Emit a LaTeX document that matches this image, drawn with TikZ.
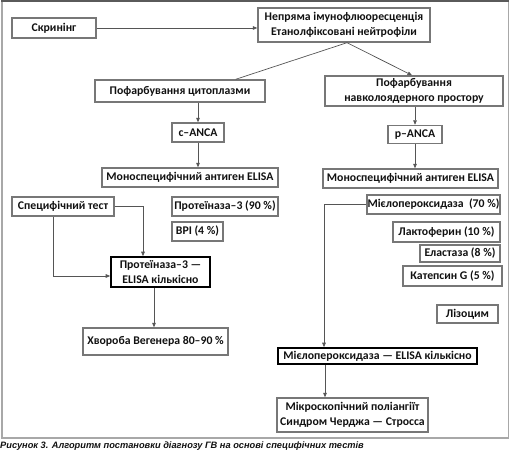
\documentclass[tikz,border=0pt]{standalone}
\usepackage{fontspec}
\setmainfont{Carlito}
\newfontfamily\capfont{Liberation Sans}
\usetikzlibrary{arrows.meta,calc}
\definecolor{boxgray}{HTML}{777777}
\definecolor{linegray}{HTML}{555555}
\definecolor{txt}{HTML}{111111}
\definecolor{framegray}{HTML}{A8A8A8}
\definecolor{framedark}{HTML}{5A5A5A}
\begin{document}
\begin{tikzpicture}[x=1bp,y=-1bp,
  box/.style={draw=boxgray, line width=1.4bp, rectangle, inner sep=0pt, align=center,
    font=\fontsize{11.8}{14.5}\selectfont\bfseries, text=txt},
  thick box/.style={box, draw=black, line width=1.6bp},
  ln/.style={draw=linegray, line width=0.7bp},
  arr/.style={ln, -{Triangle[length=4.5bp,width=3.6bp]}},
  capstyle/.style={anchor=base west, inner sep=0pt, text=txt,
    font=\capfont\fontsize{9.3}{10}\selectfont\bfseries\itshape}
]
\useasboundingbox (0,0) rectangle (510,455);
% frame
\draw[framegray, line width=1.5bp] (2,1) rectangle (508.5,438);
\draw[framedark, line width=2bp] (1,1) -- (509.3,1);

% nodes
\node[box, minimum width=84bp, minimum height=20bp] (scr) at (54,28) {Скринінг};
\node[box, minimum width=172bp, minimum height=34bp] (nif) at (344,25) {Непряма імунофлюоресценція\\Етанолфіксовані нейтрофіли};
\node[box, minimum width=170bp, minimum height=22bp] (cyt) at (180,91) {Пофарбування цитоплазми};
\node[box, minimum width=178bp, minimum height=30bp] (nav) at (414,91) {Пофарбування\\навколоядерного простору};
\node[box, minimum width=52bp, minimum height=19bp] (canca) at (198,132.5) {c–ANCA};
\node[box, minimum width=54bp, minimum height=18bp] (panca) at (415,134.5) {p–ANCA};
\node[box, minimum width=176bp, minimum height=19bp] (monoL) at (190,177.5) {Моноспецифічний антиген ELISA};
\node[box, minimum width=175bp, minimum height=19bp] (monoR) at (410.5,178.5) {Моноспецифічний антиген ELISA};
\node[box, minimum width=102bp, minimum height=19bp] (spec) at (63,206.5) {Специфічний тест};
\node[box, minimum width=106bp, minimum height=19bp] (pr90) at (225,206.5) {Протеїназа–3 (90 \%)};
\node[box, minimum width=51bp, minimum height=19bp] (bpi) at (197.5,231.5) {BPI (4 \%)};
\node[thick box, minimum width=99bp, minimum height=30bp] (prE) at (160.5,272) {Протеїназа–3 —\\ELISA кількісно};
\node[box, minimum width=145bp, minimum height=27bp] (weg) at (155.5,341.5) {Хвороба Вегенера 80–90 \%};
\node[box, minimum width=133bp, minimum height=19bp] (mpo) at (433.5,204.5) {Мієлопероксидаза~ (70 \%)};
\node[box, minimum width=107bp, minimum height=20bp] (lakt) at (446.5,232) {Лактоферин (10 \%)};
\node[box, minimum width=80bp, minimum height=17bp] (elast) at (460,253.5) {Еластаза (8 \%)};
\node[box, minimum width=99bp, minimum height=20bp] (kat) at (452.5,276) {Катепсин G (5 \%)};
\node[box, minimum width=61bp, minimum height=18bp] (liz) at (467.5,314) {Лізоцим};
\node[thick box, minimum width=199bp, minimum height=16bp] (mpoE) at (377.5,356) {Мієлопероксидаза — ELISA кількісно};
\node[box, minimum width=151bp, minimum height=34bp] (mik) at (352.5,415) {Мікроскопічний поліангіїт\\Синдром Черджа — Стросса};

% caption
\node[capstyle] (cap) at (0,448.5) {Рисунок 3. Алгоритм постановки діагнозу ГВ на основі специфічних тестів};

% connectors
\draw[arr] (scr.east) -- (scr.east -| nif.west);
\coordinate (nifb) at ($(nif.south)+(3,0)$);
\coordinate (cytt) at ($(cyt.north east)+(-30,0)$);
\draw[ln] (nifb) -- (cytt);
\draw[arr] (nifb) -- ($(nav.north)+(-2,0)$);
\draw[arr] (canca.north |- cyt.south) -- (canca.north);
\draw[arr] (panca.north |- nav.south) -- (panca.north);
\draw[arr] (canca.south) -- (canca.south |- monoL.north);
\draw[arr] (panca.south) -- (panca.south |- monoR.north);
\coordinate (prEt) at ($(prE.north)+(-17.5,0)$);
\draw[arr] (spec.east) -| (prEt);
\coordinate (specb) at ($(spec.south)+(-10,0)$);
\coordinate (prEl) at ($(prE.west)+(0,4)$);
\draw[arr] (specb) |- (prEl);
\coordinate (prEb) at ($(prE.south)+(-6.5,0)$);
\draw[arr] (prEb) -- (prEb |- weg.north);
\coordinate (mpoEt) at ($(mpoE.north)+(-53.5,0)$);
\draw[arr] (mpo.west) -| (mpoEt);
\coordinate (mpoEb) at ($(mpoE.south)+(-52.5,0)$);
\draw[arr] (mpoEb) -- (mpoEb |- mik.north);
\end{tikzpicture}
\end{document}
